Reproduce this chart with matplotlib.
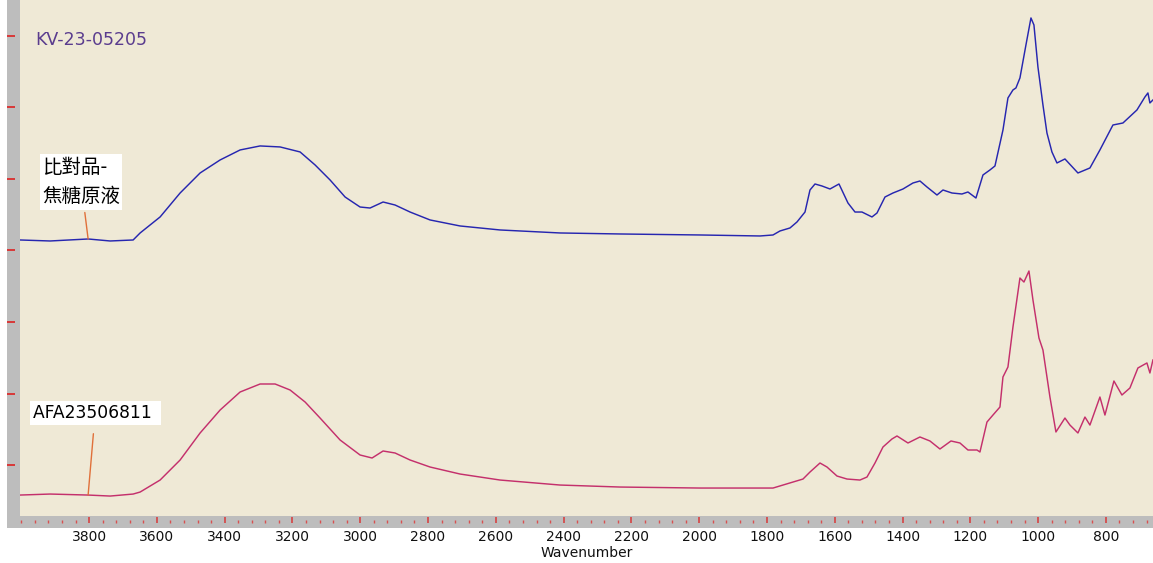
import matplotlib
matplotlib.use("Agg")
import matplotlib.pyplot as plt
from matplotlib.patches import Rectangle
from matplotlib.ticker import MultipleLocator, NullFormatter, FixedLocator
import numpy as np

# ---------------- data ----------------
blue_wavenumber = [4003.6, 3915.1, 3803.0, 3738.1, 3670.2, 3649.6, 3590.6, 3531.6, 3472.6,
                   3413.6, 3354.6, 3295.6, 3236.6, 3177.6, 3133.3, 3089.1, 3044.8, 3000.6,
                   2971.1, 2932.7, 2897.3, 2853.1, 2794.1, 2705.6, 2587.6, 2410.6, 2233.6,
                   1997.6, 1820.6, 1782.2, 1761.6, 1732.1, 1711.4, 1687.8, 1673.1, 1658.3,
                   1637.7, 1614.1, 1587.5, 1561.0, 1540.3, 1519.7, 1490.2, 1475.4, 1451.8,
                   1428.2, 1398.7, 1369.2, 1348.6, 1327.9, 1298.4, 1280.7, 1254.2, 1224.7,
                   1207.0, 1183.4, 1162.7, 1142.1, 1127.3, 1103.7, 1089.0, 1074.2, 1065.4,
                   1053.6, 1035.9, 1021.1, 1012.3, 1000.5, 985.7, 973.9, 959.2, 944.4,
                   920.8, 882.5, 847.1, 817.6, 779.2, 749.7, 708.4, 684.8, 676.0, 670.1, 661.2]
blue_absorbance = [3.147, 3.133, 3.161, 3.133, 3.147, 3.245, 3.469, 3.804, 4.084,
                   4.266, 4.406, 4.462, 4.448, 4.378, 4.196, 3.986, 3.748, 3.608,
                   3.594, 3.678, 3.636, 3.538, 3.427, 3.343, 3.287, 3.245, 3.231,
                   3.217, 3.203, 3.217, 3.273, 3.315, 3.399, 3.538, 3.846, 3.930,
                   3.902, 3.860, 3.930, 3.664, 3.538, 3.538, 3.469, 3.524, 3.748,
                   3.804, 3.860, 3.944, 3.972, 3.888, 3.776, 3.846, 3.804, 3.790,
                   3.818, 3.734, 4.056, 4.126, 4.182, 4.685, 5.133, 5.245, 5.273,
                   5.413, 5.874, 6.252, 6.154, 5.566, 5.035, 4.643, 4.378, 4.224,
                   4.280, 4.084, 4.154, 4.406, 4.755, 4.783, 4.965, 5.147, 5.203, 5.063, 5.105]

pink_wavenumber = [4003.6, 3915.1, 3803.0, 3738.1, 3670.2, 3649.6, 3590.6, 3531.6, 3472.6,
                   3413.6, 3354.6, 3295.6, 3251.3, 3207.1, 3162.8, 3118.6, 3059.6, 3000.6,
                   2965.2, 2932.7, 2897.3, 2853.1, 2794.1, 2705.6, 2587.6, 2410.6, 2233.6,
                   1997.6, 1820.6, 1782.2, 1752.7, 1723.2, 1693.7, 1673.1, 1643.6, 1622.9,
                   1593.4, 1563.9, 1525.6, 1504.9, 1481.3, 1457.7, 1431.2, 1416.4, 1384.0,
                   1348.6, 1319.1, 1289.6, 1257.1, 1230.6, 1207.0, 1180.4, 1171.6, 1150.9,
                   1133.2, 1112.6, 1103.7, 1089.0, 1074.2, 1053.6, 1041.8, 1027.0, 1015.2,
                   997.5, 985.7, 965.1, 947.4, 920.8, 906.1, 882.5, 861.8, 847.1, 817.6,
                   802.8, 776.3, 752.7, 729.1, 705.5, 678.9, 670.1, 661.2]
pink_absorbance = [-0.420, -0.406, -0.420, -0.434, -0.406, -0.378, -0.210, 0.070, 0.448,
                   0.769, 1.021, 1.133, 1.133, 1.049, 0.881, 0.657, 0.350, 0.140,
                   0.098, 0.196, 0.168, 0.070, -0.028, -0.126, -0.210, -0.280, -0.308,
                   -0.322, -0.322, -0.322, -0.280, -0.238, -0.196, -0.098, 0.028, -0.028,
                   -0.154, -0.196, -0.210, -0.168, 0.028, 0.252, 0.364, 0.406, 0.308,
                   0.392, 0.336, 0.224, 0.336, 0.308, 0.210, 0.210, 0.182, 0.601,
                   0.699, 0.811, 1.231, 1.371, 1.930, 2.615, 2.559, 2.713, 2.308,
                   1.776, 1.608, 0.951, 0.462, 0.657, 0.559, 0.448, 0.671, 0.559, 0.951,
                   0.699, 1.175, 0.979, 1.077, 1.357, 1.427, 1.287, 1.469]

x_major_ticks = [3800, 3600, 3400, 3200, 3000, 2800, 2600, 2400, 2200, 2000,
                 1800, 1600, 1400, 1200, 1000, 800]
blue_name = "比對品-\n焦糖原液"
pink_name = "AFA23506811"
title_text = "KV-23-05205"
x_label = "Wavenumber"
x_limits = (4004, 661)
y_limits = (-0.713, 6.503)

# ---------------- figure ----------------
W, H = 1153, 563
fig = plt.figure(figsize=(W / 100, H / 100), dpi=100)
fig.patch.set_facecolor("white")

gray = "#bdbdbd"
fig.add_artist(Rectangle((7 / W, (H - 528) / H), (W - 7) / W, 528 / H,
                         transform=fig.transFigure, facecolor=gray, edgecolor="none", zorder=-1))

ax = fig.add_axes([20 / W, (H - 516) / H, (W - 20) / W, 516 / H])
ax.set_facecolor("#efe9d6")

ax.plot(blue_wavenumber, blue_absorbance, color="#2626b0", lw=1.05)
ax.plot(pink_wavenumber, pink_absorbance, color="#c4306c", lw=1.05)

ax.set_xlim(*x_limits)
ax.set_ylim(*y_limits)

for s in ax.spines.values():
    s.set_visible(False)
ax.spines["left"].set_position(("outward", 3.6))
ax.spines["bottom"].set_position(("outward", 5.0))

tick_red = "#d83838"
ax.xaxis.set_major_locator(FixedLocator(x_major_ticks))
ax.xaxis.set_minor_locator(MultipleLocator(40))
ax.tick_params(axis="x", which="major", direction="in", length=4.3, width=1.1,
               color=tick_red, labelsize=10, pad=5.2, labelcolor="#111111")
ax.tick_params(axis="x", which="minor", direction="in", length=2.4, width=1.0,
               color="#d85050")
ax.yaxis.set_major_locator(MultipleLocator(1))
ax.yaxis.set_major_formatter(NullFormatter())
ax.tick_params(axis="y", which="major", direction="out", length=5.8, width=1.4,
               color=tick_red)
ax.tick_params(top=False, right=False)

ax.set_xlabel(x_label, fontsize=10, labelpad=1, color="#111111")

# sample id
ax.text(15 / 1133, 1 - 40 / 516, title_text, transform=ax.transAxes,
        fontsize=12.5, color="#5a3c8e", ha="left", va="center", family="DejaVu Sans")

# labels with leader lines
blue_idx = blue_wavenumber.index(3803.0)
pink_idx = pink_wavenumber.index(3803.0)

ax.annotate(blue_name, xy=(blue_wavenumber[blue_idx], blue_absorbance[blue_idx]),
            xytext=(22 / 1133, 1 - 182 / 516), textcoords="axes fraction",
            ha="left", va="center", fontsize=14, linespacing=1.55,
            family=["Noto Sans CJK TC", "DejaVu Sans"], color="black",
            bbox=dict(boxstyle="square,pad=0.12", facecolor="white", edgecolor="none"),
            arrowprops=dict(arrowstyle="-", color="#e0703a", lw=1.0, shrinkA=2, shrinkB=0))

ax.annotate(pink_name + " ", xy=(pink_wavenumber[pink_idx], pink_absorbance[pink_idx]),
            xytext=(13 / 1133, 1 - 413 / 516), textcoords="axes fraction",
            ha="left", va="center", fontsize=12.3, family="DejaVu Sans", color="black",
            bbox=dict(boxstyle="square,pad=0.2", facecolor="white", edgecolor="none"),
            arrowprops=dict(arrowstyle="-", color="#e0703a", lw=1.0, shrinkA=6, shrinkB=0))

fig.savefig("out.png", dpi=100, facecolor=fig.get_facecolor())
